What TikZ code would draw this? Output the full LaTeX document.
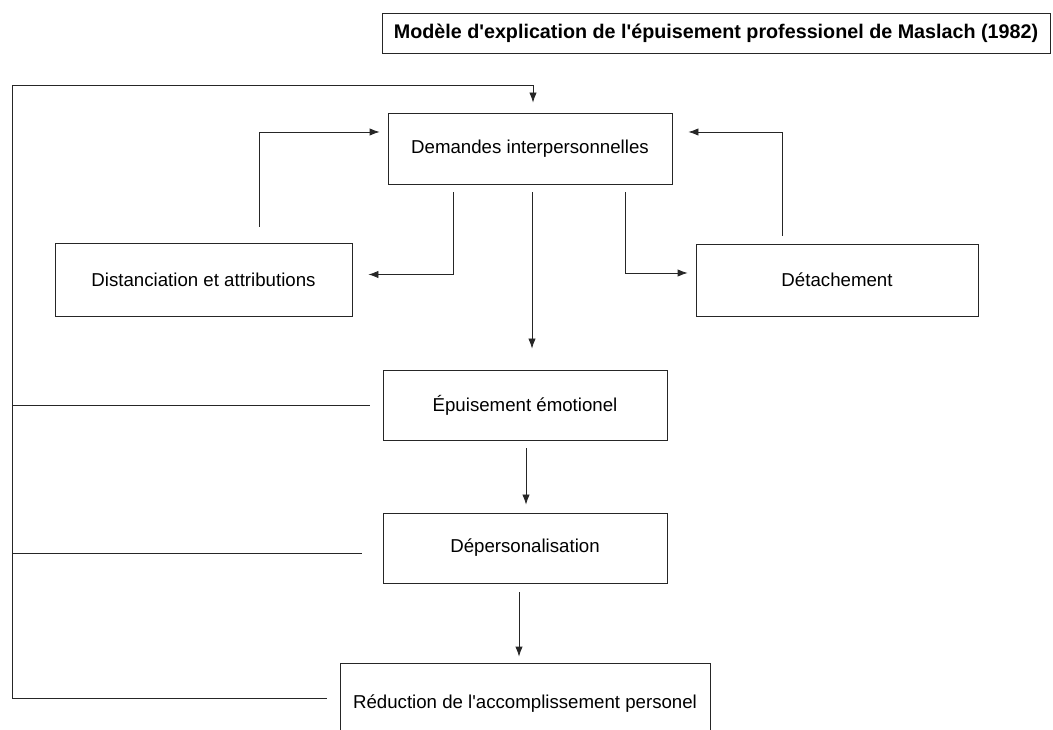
\documentclass[tikz,border=0pt]{standalone}
\usepackage{fontspec}
\setmainfont{Liberation Sans}
\usepackage{tikz}
\usetikzlibrary{arrows.meta}
\usetikzlibrary{positioning}

\begin{document}
\begin{tikzpicture}
  [x=0.75pt, y=-0.75pt,
  box/.style={rectangle, draw, line width=0.6pt, black!85,
    text=black, inner sep=0pt,
    font=\fontsize{14}{16}\selectfont},
  link/.style={line width=0.6pt, black!85},
  arr/.style={link, -{Latex[length=7.5pt,width=5.5pt]}}]
\useasboundingbox (0,0) rectangle (1053,730);
% title
\node [box, minimum width=501pt, minimum height=30pt,
  font=\fontsize{14.8}{16}\selectfont\bfseries] (title) at (716,33)
  {Mod\`ele d\textquotesingle explication de l\textquotesingle\'epuisement professionel de Maslach (1982)};
% boxes
\node [box, minimum width=213pt, minimum height=53.25pt] (dem) at (530,148.5)
  {Demandes interpersonnelles};
\node [box, minimum width=222.75pt, minimum height=54.75pt] (dist) at (203.5,279.5)
  {Distanciation et attributions};
\node [box, minimum width=211.5pt, minimum height=54pt] (det) at (837,280)
  {D\'etachement};
\node [box, minimum width=213pt, minimum height=52.5pt] (epu) at (525,405)
  {\'Epuisement \'emotionel};
\node [box, minimum width=213pt, minimum height=52.5pt] (dep) at (525,548)
  {D\'epersonalisation};
\node [box, minimum width=277.5pt, minimum height=61.5pt] (red) at (525,704)
  {R\'eduction de l\textquotesingle accomplissement personel};
\coordinate (loop) at (12,85);
% feedback
\draw [arr] ([shift={(-13,-6)}]red.west) -| (loop) -| ([shift={(3,-10)}]dem.north);
\draw [link] ([shift={(-13,0)}]epu.west) coordinate (epufb) -- (loop |- epufb);
\draw [link] ([shift={(-21,5)}]dep.west) coordinate (depfb) -- (loop |- depfb);
% arrows around the top box
\draw [arr] ([shift={(-77,8)}]dem.south) |- ([shift={(16,-5)}]dist.east);
\draw [arr] ([shift={(55.5,-16)}]dist.north) |- ([shift={(-8,-16.5)}]dem.west);
\draw [arr] ([shift={(95,8)}]dem.south) |- ([shift={(-8,-7)}]det.west);
\draw [arr] ([shift={(-55,-8)}]det.north) |- ([shift={(16,-16.5)}]dem.east);
% chain
\draw [arr] ([shift={(2,8)}]dem.south) -- ([shift={(7,-21)}]epu.north);
\draw [arr] ([shift={(1,8)}]epu.south) -- ([shift={(1,-8)}]dep.north);
\draw [arr] ([shift={(-6,9)}]dep.south) -- ([shift={(-6,-6)}]red.north);
\end{tikzpicture}
\end{document}
